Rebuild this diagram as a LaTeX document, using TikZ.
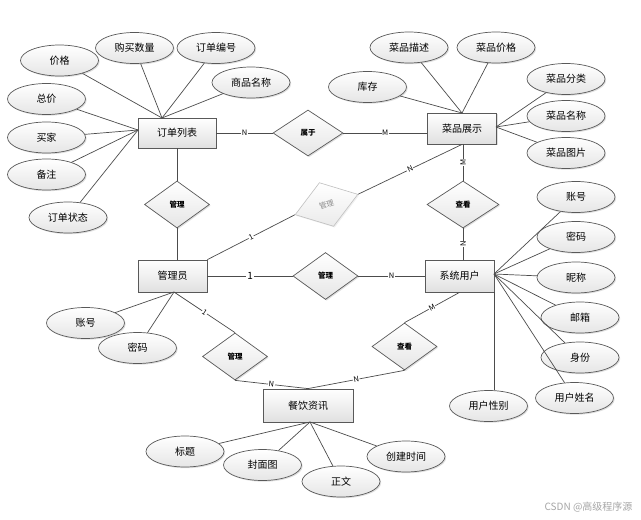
\documentclass[tikz,border=0pt]{standalone}
\usepackage{fontspec}
\setmainfont{Noto Sans CJK SC}
\usetikzlibrary{shapes.geometric,shadows}
\tikzset{
  ln/.style={draw=black!70, line width=0.7pt},
  shd/.style={drop shadow={opacity=0.25, shadow xshift=1.2pt, shadow yshift=-1.2pt}},
  ent/.style={rectangle, draw=black!65, line width=0.8pt, top color=white, bottom color=black!12, shd,
    minimum width=69pt, minimum height=31pt, inner sep=0pt, font=\fontsize{10}{12}\selectfont},
  attr/.style={ellipse, draw=black!65, line width=0.7pt, top color=white, bottom color=black!10, shd,
    minimum width=78pt, minimum height=31pt, inner sep=0pt, font=\fontsize{10}{12}\selectfont},
  rel/.style={diamond, draw=black!65, line width=0.7pt, top color=white, bottom color=black!10, shd,
    minimum width=65pt, minimum height=47pt, inner sep=0pt, font=\bfseries\fontsize{7.5}{9}\selectfont},
  lab/.style={fill=white, inner sep=0.6pt, font=\fontsize{7.5}{8}\selectfont},
  labbig/.style={fill=white, inner sep=0.8pt, font=\fontsize{10}{11}\selectfont},
}
\begin{document}
\begin{tikzpicture}[x=1pt,y=-1pt]
\useasboundingbox[fill=white] (0,0) rectangle (641,520);

% entities
\node[ent, minimum width=78pt, minimum height=30pt] (ol) at (177,133) {订单列表};
\node[ent] (cp) at (462,128.5) {菜品展示};
\node[ent, minimum height=32pt] (gm) at (172.5,276) {管理员};
\node[ent, minimum height=32pt] (su) at (459.5,276) {系统用户};
\node[ent, minimum width=90pt, minimum height=33pt] (zx) at (308,405.5) {餐饮资讯};

% relationships
\node[rel, minimum width=70pt, minimum height=46pt] (sy) at (308,133) {属于};
\node[rel] (gl1) at (177,204.5) {管理};
\node[rel, minimum width=72pt] (ck1) at (463,204.5) {查看};
\node[rel] (gl2) at (325.5,276) {管理};
\node[rel] (gl3) at (235,356.5) {管理};
\node[rel] (ck2) at (404.5,346.5) {查看};
\node[diamond, draw=black!25, line width=0.6pt, top color=white, bottom color=black!8,
  drop shadow={opacity=0.12, shadow xshift=1.2pt, shadow yshift=-1.2pt},
  minimum width=66pt, minimum height=46pt, inner sep=0pt, rotate=18, text=black!45,
  font=\fontsize{7.5}{9}\selectfont] (gl0) at (326.5,204.5) {管理};

% attributes of 订单列表
\node[attr] (a1) at (59.5,60.5) {价格};
\node[attr] (a2) at (134.5,48) {购买数量};
\node[attr] (a3) at (216,48) {订单编号};
\node[attr] (a4) at (251,82.5) {商品名称};
\node[attr] (a5) at (46.5,99) {总价};
\node[attr] (a6) at (46.5,137.5) {买家};
\node[attr] (a7) at (46.5,174.5) {备注};
\node[attr] (a8) at (68,217.5) {订单状态};

% attributes of 菜品展示
\node[attr] (b1) at (409,47.5) {菜品描述};
\node[attr] (b2) at (496,47.5) {菜品价格};
\node[attr] (b3) at (367.5,87) {库存};
\node[attr] (b4) at (566,79) {菜品分类};
\node[attr] (b5) at (566,116) {菜品名称};
\node[attr] (b6) at (566,153) {菜品图片};

% attributes of 系统用户
\node[attr] (c1) at (576,197) {账号};
\node[attr] (c2) at (576,237) {密码};
\node[attr] (c3) at (576,277.5) {昵称};
\node[attr] (c4) at (580,317.5) {邮箱};
\node[attr] (c5) at (580,357.5) {身份};
\node[attr] (c6) at (574.5,398) {用户姓名};
\node[attr] (c7) at (488.5,406) {用户性别};

% attributes of 管理员
\node[attr] (d1) at (85.5,323) {账号};
\node[attr] (d2) at (137.5,348) {密码};

% attributes of 餐饮资讯
\node[attr] (e1) at (185,451.5) {标题};
\node[attr] (e2) at (262.5,465) {封面图};
\node[attr] (e3) at (341,481.5) {正文};
\node[attr] (e4) at (406,456.5) {创建时间};

% convergence points
\coordinate (olT) at (162,118);
\coordinate (olL) at (138,130);
\coordinate (cpT) at (462,113);
\coordinate (cpR) at (496,127);
\coordinate (suR) at (494,274);
\coordinate (gmB) at (174,292);
\coordinate (zxB) at (310,422);

% attribute lines
\foreach \n in {a1,a2,a3,a4} \draw[ln] (olT) -- (\n);
\foreach \n in {a5,a6,a7,a8} \draw[ln] (olL) -- (\n);
\foreach \n in {b1,b2,b3} \draw[ln] (cpT) -- (\n);
\foreach \n in {b4,b5,b6} \draw[ln] (cpR) -- (\n);
\foreach \n in {c1,c2,c3,c4,c5,c6} \draw[ln] (suR) -- (\n);
\draw[ln] (su.south east) -- (su.south east |- c7.north);
\foreach \n in {d1,d2} \draw[ln] (gmB) -- (\n);
\foreach \n in {e1,e2,e3,e4} \draw[ln] (zxB) -- (\n);

% relationship connectors
\draw[ln] (ol.east) -- node[lab]{N} (sy.west);
\draw[ln] (sy.east) -- node[lab]{M} (sy.east -| cp.west);
\draw[ln] (ol.south) -- (gl1.north);
\draw[ln] (gl1.south) -- (gl1.south |- gm.north);
\draw[ln] (gm.north east) -- node[lab, sloped]{1} (gl0.west);
\draw[ln] (gl0.east) -- node[lab, sloped]{N} (cp.south);
\draw[ln] (ck1.north |- cp.south) -- node[lab, rotate=90]{M} (ck1.north);
\draw[ln] (ck1.south) -- node[lab, rotate=90]{N} (ck1.south |- su.north);
\draw[ln] (gm.east) -- node[labbig]{1} (gl2.west);
\draw[ln] (gl2.east) -- node[lab]{N} (su.west);
\draw[ln] (gmB) -- node[lab, sloped]{1} (gl3.north);
\draw[ln] (gl3.south) -- node[lab, sloped]{N} (zx.north);
\draw[ln] (su.south) -- node[lab, sloped]{M} (ck2.north);
\draw[ln] (ck2.south) -- node[lab, sloped]{N} (zx.north);

% watermark
\node[anchor=east, text=black!35, font=\fontsize{10}{11}\selectfont] (wm) at (636,507) {CSDN @高级程序源};
\end{tikzpicture}
\end{document}
